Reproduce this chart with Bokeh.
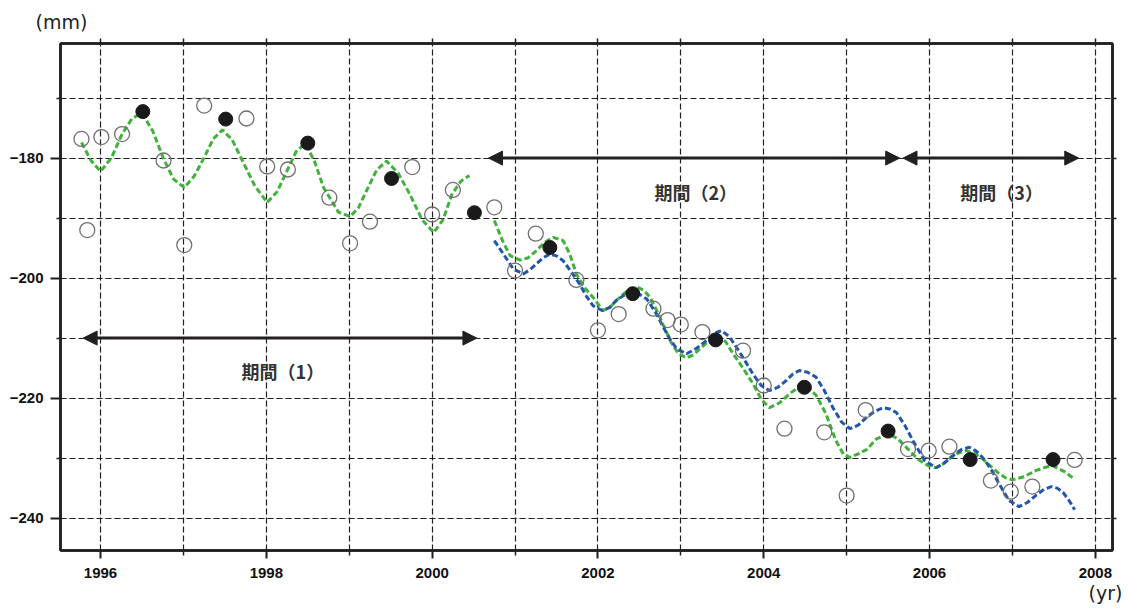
from bokeh.plotting import figure
from bokeh.models import Range1d, FixedTicker, LinearAxis, Grid, Arrow, NormalHead, Label, Title
from bokeh.embed import file_html
from bokeh.resources import INLINE

# ---------------- data ----------------
open_x = [1995.77, 1995.84, 1996.01, 1996.26, 1996.76, 1997.01, 1997.25, 1997.76, 1998.01,
          1998.26, 1998.76, 1999.01, 1999.25, 1999.76, 2000.00, 2000.25, 2000.75, 2001.00,
          2001.25, 2001.74, 2002.00, 2002.25, 2002.67, 2002.84, 2003.00, 2003.26, 2003.75,
          2004.00, 2004.25, 2004.73, 2005.00, 2005.23, 2005.74, 2005.99, 2006.24, 2006.74,
          2006.98, 2007.24, 2007.75]
open_y = [-176.8, -192.0, -176.5, -176.0, -180.4, -194.5, -171.25, -173.4, -181.4,
          -181.9, -186.6, -194.2, -190.6, -181.5, -189.4, -185.3, -188.2, -198.75,
          -192.6, -200.3, -208.7, -206.0, -205.1, -207.0, -207.75, -209.0, -212.1,
          -217.9, -225.1, -225.7, -236.25, -222.0, -228.5, -228.75, -228.1, -233.75,
          -235.6, -234.75, -230.3]

filled_x = [1996.51, 1997.51, 1998.50, 1999.51, 2000.51, 2001.42, 2002.42, 2003.42,
            2004.49, 2005.50, 2006.49, 2007.49]
filled_y = [-172.25, -173.5, -177.5, -183.4, -189.1, -194.9, -202.6, -210.3,
            -218.2, -225.5, -230.25, -230.25]

green1_x = [1995.77, 1995.88, 1996.00, 1996.13, 1996.26, 1996.38, 1996.50, 1996.63, 1996.76,
            1996.88, 1997.01, 1997.13, 1997.25, 1997.36, 1997.47, 1997.59, 1997.71, 1997.86,
            1998.01, 1998.13, 1998.25, 1998.36, 1998.47, 1998.58, 1998.69, 1998.87, 1999.01,
            1999.11, 1999.21, 1999.33, 1999.45, 1999.59, 1999.73, 1999.88, 2000.02, 2000.13,
            2000.24, 2000.35, 2000.45]
green1_y = [-177.4, -180.3, -182.2, -180.0, -176.0, -173.4, -172.5, -175.5, -180.1,
            -183.5, -184.9, -183.0, -179.9, -176.8, -175.3, -177.0, -180.4, -184.6,
            -187.4, -185.6, -182.1, -178.9, -177.6, -180.5, -184.9, -189.0, -189.75,
            -188.3, -185.4, -182.0, -180.5, -182.5, -186.0, -190.3, -192.4, -190.3,
            -186.0, -183.8, -182.9]

green2_x = [2000.75, 2000.85, 2000.94, 2001.06, 2001.16, 2001.26, 2001.36, 2001.46, 2001.58,
            2001.66, 2001.74, 2001.84, 2001.94, 2002.06, 2002.14, 2002.22, 2002.34, 2002.47,
            2002.55, 2002.63, 2002.75, 2002.87, 2002.97, 2003.07, 2003.15, 2003.23, 2003.34,
            2003.45, 2003.54, 2003.63, 2003.75, 2003.87, 2003.97, 2004.07, 2004.19, 2004.31,
            2004.41, 2004.51, 2004.63, 2004.75, 2004.87, 2004.96, 2005.04, 2005.14, 2005.24,
            2005.36, 2005.50, 2005.62, 2005.74, 2005.86, 2005.98, 2006.08, 2006.16, 2006.24,
            2006.34, 2006.44, 2006.54, 2006.64, 2006.74, 2006.84, 2006.92, 2007.00, 2007.14,
            2007.28, 2007.38, 2007.48, 2007.62, 2007.75]
green2_y = [-190.4, -193.8, -196.25, -197.0, -196.6, -195.4, -194.0, -193.2, -193.75,
            -196.0, -199.3, -201.6, -203.2, -205.4, -205.0, -203.75, -202.3, -201.5,
            -202.0, -203.2, -206.6, -210.4, -212.6, -213.3, -212.8, -211.8, -210.4,
            -209.6, -210.6, -212.6, -215.0, -217.6, -220.2, -221.6, -220.8, -219.3,
            -218.3, -217.9, -219.5, -222.6, -227.1, -229.3, -229.9, -229.3, -228.6,
            -226.8, -225.9, -226.8, -228.5, -230.2, -231.25, -231.6, -231.0, -230.1,
            -229.2, -228.75, -229.2, -230.1, -231.4, -232.6, -233.3, -233.6, -233.1,
            -232.1, -231.6, -231.25, -232.2, -233.5]

blue_x = [2000.75, 2000.86, 2000.98, 2001.10, 2001.18, 2001.26, 2001.34, 2001.42, 2001.50,
          2001.58, 2001.68, 2001.78, 2001.86, 2001.94, 2002.05, 2002.14, 2002.22, 2002.32,
          2002.42, 2002.50, 2002.59, 2002.69, 2002.79, 2002.87, 2002.95, 2003.07, 2003.19,
          2003.31, 2003.40, 2003.49, 2003.58, 2003.67, 2003.77, 2003.87, 2003.97, 2004.07,
          2004.17, 2004.27, 2004.35, 2004.43, 2004.53, 2004.63, 2004.73, 2004.83, 2004.94,
          2005.04, 2005.14, 2005.24, 2005.34, 2005.44, 2005.52, 2005.60, 2005.70, 2005.80,
          2005.94, 2006.08, 2006.18, 2006.28, 2006.38, 2006.48, 2006.56, 2006.64, 2006.74,
          2006.84, 2006.96, 2007.08, 2007.18, 2007.28, 2007.38, 2007.47, 2007.54, 2007.61,
          2007.68, 2007.75]
blue_y = [-193.75, -196.0, -198.5, -199.3, -198.6, -197.6, -196.6, -196.0, -196.3,
          -197.1, -199.0, -201.0, -203.0, -204.6, -205.4, -204.9, -203.75, -202.8,
          -202.4, -202.7, -203.5, -205.6, -208.2, -210.2, -211.8, -212.6, -211.7,
          -210.4, -209.2, -208.75, -209.7, -211.5, -213.7, -216.0, -217.9, -218.75,
          -218.2, -217.1, -216.0, -215.4, -215.7, -216.5, -218.7, -221.5, -224.0,
          -225.1, -224.5, -223.2, -222.2, -221.6, -221.8, -222.4, -224.5, -227.1,
          -230.4, -231.6, -230.8, -229.6, -228.6, -228.2, -228.8, -229.9, -231.8,
          -234.3, -237.1, -238.1, -237.4, -236.25, -235.2, -234.75, -235.0, -235.7,
          -237.0, -238.6]

x_major = [1996, 1998, 2000, 2002, 2004, 2006, 2008]
x_minor = [1997, 1999, 2001, 2003, 2005, 2007]
x_labels = ["1996", "1998", "2000", "2002", "2004", "2006", "2008"]
y_major = [-240, -220, -200, -180]
y_minor = [-230, -210, -190, -170]
y_labels = ["−240", "−220", "−200", "−180"]

periods = ["期間（1）", "期間（2）", "期間（3）"]
period_start = [1995.79, 2000.68, 2005.68]
period_end = [2000.54, 2005.64, 2007.80]
period_level = [-210, -180, -180]
period_label_x = [1998.20, 2003.18, 2006.87]
period_label_y = [-215.4, -185.7, -185.7]

# ---------------- styling ----------------
INK = "#231f20"
GREEN = "#40b13a"
BLUE = "#2356a8"

p = figure(width=1128, height=611, output_backend="svg", toolbar_location=None,
           x_range=Range1d(1995.517, 2008.207), y_range=Range1d(-245.4, -160.9),
           x_axis_location=None, y_axis_location=None,
           min_border_left=60, min_border_right=16, min_border_top=43, min_border_bottom=61)
p.background_fill_color = "white"
p.border_fill_color = "white"
p.outline_line_color = INK
p.outline_line_width = 2.5

all_years = list(range(1996, 2009))
all_mm = list(range(-240, -169, 10))
xg = Grid(dimension=0, ticker=FixedTicker(ticks=all_years), grid_line_color=INK,
          grid_line_width=1.2, grid_line_dash="6 3")
yg = Grid(dimension=1, ticker=FixedTicker(ticks=all_mm), grid_line_color=INK,
          grid_line_width=1.2, grid_line_dash="6 3")
p.add_layout(xg)
p.add_layout(yg)


def style_axis(ax, tick_out, minor_out):
    ax.axis_line_color = INK
    ax.axis_line_width = 2.5
    ax.major_tick_line_color = INK
    ax.major_tick_line_width = 2
    ax.minor_tick_line_color = INK
    ax.minor_tick_line_width = 1.5
    ax.major_tick_in = 0
    ax.minor_tick_in = 0
    ax.major_tick_out = tick_out
    ax.minor_tick_out = minor_out
    ax.major_label_text_font = "Liberation Sans"
    ax.major_label_text_font_style = "bold"
    ax.major_label_text_font_size = "15px"
    ax.major_label_text_color = "#111111"


bottom = LinearAxis(ticker=FixedTicker(ticks=x_major, minor_ticks=x_minor),
                    major_label_overrides=dict(zip(x_major, x_labels)))
style_axis(bottom, 8, 5)
bottom.major_label_standoff = 9
p.add_layout(bottom, "below")

left = LinearAxis(ticker=FixedTicker(ticks=y_major, minor_ticks=y_minor),
                  major_label_overrides=dict(zip(y_major, y_labels)))
style_axis(left, 10, 4)
left.major_label_standoff = 7
p.add_layout(left, "left")

# top / right: tick marks only (no labels)
top = LinearAxis(ticker=FixedTicker(ticks=[], minor_ticks=list(range(1996, 2009))))
style_axis(top, 5, 5)
top.major_label_standoff = 0
p.add_layout(top, "above")

right = LinearAxis(ticker=FixedTicker(ticks=[], minor_ticks=all_mm))
style_axis(right, 4, 4)
right.major_label_standoff = 0
p.add_layout(right, "right")

# unit labels
p.add_layout(Title(text="(yr)", align="right", offset=-10, standoff=2,
                   vertical_align="top", text_font="DejaVu Sans",
                   text_font_style="normal", text_font_size="19px",
                   text_color="#222222"), "below")
p.add_layout(Title(text="(mm)", align="left", offset=-25, standoff=11,
                   text_font="DejaVu Sans", text_font_style="normal",
                   text_font_size="19px", text_color="#222222"), "above")

# curves
p.line(green1_x, green1_y, line_color=GREEN, line_width=3, line_dash="6 3")
p.line(green2_x, green2_y, line_color=GREEN, line_width=3, line_dash="6 3")
p.line(blue_x, blue_y, line_color=BLUE, line_width=3, line_dash="6 3")

# points
p.scatter(open_x, open_y, marker="circle", size=15, fill_color=None,
          line_color="#707070", line_width=1.3)
p.scatter(filled_x, filled_y, marker="circle", size=14, fill_color="#1a1a1a",
          line_color="#1a1a1a")

# period arrows and labels
for s, e, lv in zip(period_start, period_end, period_level):
    p.add_layout(Arrow(x_start=s, y_start=lv, x_end=e, y_end=lv,
                       line_color=INK, line_width=3,
                       start=NormalHead(size=14, fill_color=INK, line_color=INK, line_width=1),
                       end=NormalHead(size=14, fill_color=INK, line_color=INK, line_width=1)))
for t, lx, ly in zip(periods, period_label_x, period_label_y):
    p.add_layout(Label(x=lx, y=ly, text=t, text_align="center", text_baseline="middle",
                       text_font="Noto Sans CJK JP", text_font_style="bold",
                       text_font_size="18px", text_color="#333333"))

open("out.html", "w").write(file_html(p, INLINE))
